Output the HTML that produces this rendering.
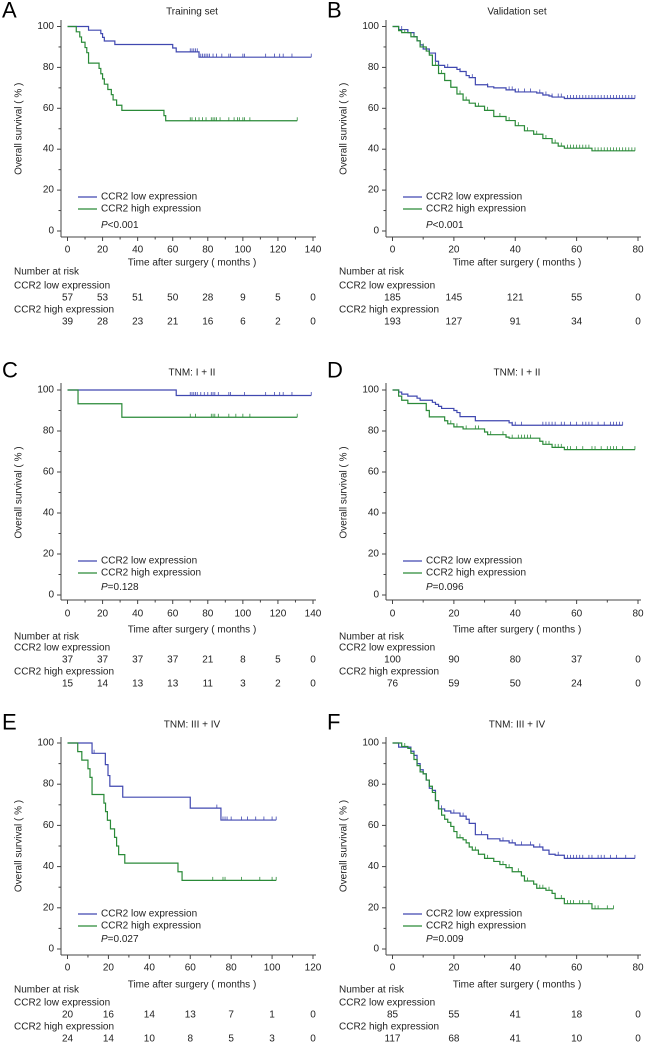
<!DOCTYPE html>
<html><head><meta charset="utf-8"><style>
html,body{margin:0;padding:0;background:#fff;}
svg{display:block;font-family:"Liberation Sans",Arial,sans-serif;}
</style></head><body>
<svg id="fig" width="650" height="1057" viewBox="0 0 650 1057" xmlns="http://www.w3.org/2000/svg"></svg>
<script>
// ---- Data (time in months, survival in %) ----
const A_low_t=[12,19,20,21,27,60,62,75], A_low_s=[98.2,96.5,94.7,92.9,91.2,89.5,87.6,85.0], A_low_end=139;
const A_low_c=[70,71,72,73,74,75,76,77,78,79,80,81,83,85,88,92,93,100,101,113,118,121,123,128,139];
const A_high_t=[5,7,8,10,11,12,18,19,20,21,23,25,26,28,31,55,56], A_high_s=[97.4,94.9,92.3,89.7,87.2,82.1,79.5,76.9,74.4,71.8,69.2,66.7,64.1,61.5,59.0,56.4,53.9], A_high_end=131;
const A_high_c=[70,71,73,75,77,79,82,83,84,85,87,92,95,97,98,100,101,104,131];
const B_low_t=[2,5,7,8,9,10,12,14,15,17,21,22,24,25,27,31,33,37,40,47,49,51,52,56], B_low_s=[98.5,97,95,93,91,89,87,83,81,80,79,78,76,75,71.5,70.5,70,69,68,67.5,66.5,66,65.5,64.8], B_low_end=79;
const B_low_c=[3,5,15,18,22,26,31,38,39,40,41,43,45,48,50,52,54,55,57,58,59,60,61,62,63,64,65,66,67,68,69,70,71,72,73,74,75,76,77,78,79];
const B_high_t=[2,3,6,8,9,11,12,13,15,17,19,21,23,25,27,30,33,37,40,43,46,49,52,54,56,65], B_high_s=[98,97,95,93,90,88,86,81,77,73.6,70.3,67,64,62.5,61,59,56,54,51.5,49,47.3,45.2,43,41.5,40.5,39.2], B_high_end=79;
const B_high_c=[4,7,10,14,16,19,22,24,28,31,35,38,41,44,47,50,53,55,57,58,59,60,61,62,63,64,66,67,68,69,70,71,72,73,74,75,76,77,78,79];
const C_low_t=[62], C_low_s=[97.3], C_low_end=139;
const C_low_c=[70,71,72,73,74,76,78,80,82,83,84,86,92,93,101,113,118,121,123,128,139];
const C_high_t=[6,31], C_high_s=[93.3,86.7], C_high_end=131;
const C_high_c=[70,73,82,83,84,86,92,96,100,104,131];
const D_low_t=[2,3,5,8,9,13,14,15,16,20,21,22,27,38,39], D_low_s=[99,98,97,96,95,94,93,92,91,90,89,87,85,84,82.8], D_low_end=75;
const D_low_c=[39,40,42,49,50,51,52,53,55,56,58,60,62,63,64,65,67,69,71,72,73,74,75];
const D_high_t=[2,3,5,11,12,17,18,20,23,30,31,37,38,48,49,52,56], D_high_s=[97,95,93.4,90,86.9,85,83.5,82,81,79.5,78.2,77,76.5,75,73.5,72,70.9], D_high_end=79;
const D_high_c=[19,21,24,27,28,32,36,39,41,42,43,44,45,50,51,53,54,55,57,58,60,62,65,66,68,70,71,72,73,75,79];
const E_low_t=[12,18.5,19.8,20.7,27,60,75], E_low_s=[95,89.5,84.2,79,73.7,68.4,62.6], E_low_end=102;
const E_low_c=[13,73,76,77,78,80,85,88,92,96,100,102];
const E_high_t=[5,7,10,11,12,17.8,18.6,19.5,21,23,24,25,28,54,56], E_high_s=[95.8,91.7,87.5,83.3,75,70.8,66.7,62.5,58.3,54.2,50,45.8,41.7,37.5,33.3], E_high_end=102;
const E_high_c=[71,76,77,85,94,100,102];
const F_low_t=[2,6,7,8,9,10,11,12,13,14,15,17,19,22,24,25,27,31,35,38,40,46,49,51,53,56], F_low_s=[98,96,94,90,87,85,82,78,77,72,68,67,66,64.5,63,61,55.5,53.5,52.5,51.5,50.5,49.5,48,46,45.5,44], F_low_end=79;
const F_low_c=[3,13,16,20,23,29,36,39,42,45,48,54,57,58,59,60,61,62,64,65,67,68,69,71,73,76,79];
const F_high_t=[3,5,6,7,8,9,10,11,12,13,14,15,16,17,18,19,20,21,23,24,25,26,28,30,33,35,37,39,42,43,46,47,50,52,53,56,65], F_high_s=[98.3,97.4,95,92,89,86,85,82,79,76,72,68,65,63,61.5,59.5,57,54,53,51.5,49.5,48,46,44,42.5,41,39.5,37.5,35.5,33,31.5,29.5,28.5,27,24.5,22,19.5], F_high_end=72;
const F_high_c=[4,9,15,19,22,27,31,36,38,41,44,48,49,51,55,57,58,59,61,62,64,66,67,70,72];
// risk tables
const A_risk_low=[57,53,51,50,28,9,5,0], A_risk_high=[39,28,23,21,16,6,2,0];
const B_risk_low=[185,145,121,55,0], B_risk_high=[193,127,91,34,0];
const C_risk_low=[37,37,37,37,21,8,5,0], C_risk_high=[15,14,13,13,11,3,2,0];
const D_risk_low=[100,90,80,37,0], D_risk_high=[76,59,50,24,0];
const E_risk_low=[20,16,14,13,7,1,0], E_risk_high=[24,14,10,8,5,3,0];
const F_risk_low=[85,55,41,18,0], F_risk_high=[117,68,41,10,0];
const A_pval="<0.001", B_pval="<0.001", C_pval="=0.128", D_pval="=0.096", E_pval="=0.027", F_pval="=0.009";

const BLUE="#4048b0", GREEN="#2a8a38", AX="#444";
const NS="http://www.w3.org/2000/svg";
const svg=document.getElementById('fig');
function mk(tag,attrs,parent){const e=document.createElementNS(NS,tag);for(const k in attrs)e.setAttribute(k,attrs[k]);(parent||svg).appendChild(e);return e;}
function txt(s,x,y,attrs,parent){const e=mk('text',Object.assign({x:x,y:y,'font-size':10,fill:'#222','dominant-baseline':'central'},attrs||{}),parent);e.textContent=s;return e;}

const rows=[
 {title:12,tick:250,xt:263,nar:272,low:286,lown:298,high:310,highn:322,leg1:197,leg2:209,p:225,y100:26.5,y0:231,ax:237,top:20,letter:10},
 {title:373,tick:614,xt:630,nar:637,low:648,lown:660,high:672,highn:684,leg1:561,leg2:573,p:587,y100:390,y0:595,ax:600,top:383,letter:370},
 {title:725,tick:968,xt:985,nar:990,low:1003,lown:1015,high:1027,highn:1039,leg1:914,leg2:926,p:939,y100:743,y0:949,ax:955,top:737,letter:722}
];
const panels=[
 {id:'A',row:0,ox:0,xmax:140,title:'Training set',lt:A_low_t,ls:A_low_s,le:A_low_end,lc:A_low_c,ht:A_high_t,hs:A_high_s,he:A_high_end,hc:A_high_c,rl:A_risk_low,rh:A_risk_high,p:A_pval},
 {id:'B',row:0,ox:325,xmax:80,title:'Validation set',lt:B_low_t,ls:B_low_s,le:B_low_end,lc:B_low_c,ht:B_high_t,hs:B_high_s,he:B_high_end,hc:B_high_c,rl:B_risk_low,rh:B_risk_high,p:B_pval},
 {id:'C',row:1,ox:0,xmax:140,title:'TNM: I + II',lt:C_low_t,ls:C_low_s,le:C_low_end,lc:C_low_c,ht:C_high_t,hs:C_high_s,he:C_high_end,hc:C_high_c,rl:C_risk_low,rh:C_risk_high,p:C_pval},
 {id:'D',row:1,ox:325,xmax:80,title:'TNM: I + II',lt:D_low_t,ls:D_low_s,le:D_low_end,lc:D_low_c,ht:D_high_t,hs:D_high_s,he:D_high_end,hc:D_high_c,rl:D_risk_low,rh:D_risk_high,p:D_pval},
 {id:'E',row:2,ox:0,xmax:120,title:'TNM: III + IV',lt:E_low_t,ls:E_low_s,le:E_low_end,lc:E_low_c,ht:E_high_t,hs:E_high_s,he:E_high_end,hc:E_high_c,rl:E_risk_low,rh:E_risk_high,p:E_pval},
 {id:'F',row:2,ox:325,xmax:80,title:'TNM: III + IV',lt:F_low_t,ls:F_low_s,le:F_low_end,lc:F_low_c,ht:F_high_t,hs:F_high_s,he:F_high_end,hc:F_high_c,rl:F_risk_low,rh:F_risk_high,p:F_pval}
];

panels.forEach(P=>{
 const R=rows[P.row], ox=P.ox;
 const X0=ox+67.5, X1=ox+313;
 const xs=t=>X0+(X1-X0)*t/P.xmax;
 const ys=s=>R.y0+(R.y100-R.y0)*s/100;
 const g=mk('g',{});
 
 
 const L=txt(P.id,ox+2,R.letter,{'font-size':22,fill:'#000'},g);
 
 
 const T=txt(P.title,ox+192,R.title,{'text-anchor':'middle'},g);
 
 
 // axes
 const axX=ox+61;
 const ya=mk('line',{x1:axX,y1:R.top,x2:axX,y2:R.ax,stroke:AX,'stroke-width':1},g);
 
 
 const xa=mk('line',{x1:axX,y1:R.ax,x2:ox+316,y2:R.ax,stroke:AX,'stroke-width':1},g);
 
 
 for(let v=0;v<=100;v+=10){
  const y=ys(v), major=v%20===0;
  mk('line',{x1:axX-(major?4:2.5),y1:y,x2:axX,y2:y,stroke:AX},g);
  if(major){const t=txt(String(v),axX-7,y,{'text-anchor':'end'},g);
   
   }
 }
 const step=20, ticks=[];
 for(let v=0;v<=P.xmax;v+=step/2){
  const x=xs(v), major=v%step===0;
  mk('line',{x1:x,y1:R.ax,x2:x,y2:R.ax+(major?4:2.5),stroke:AX},g);
  if(major){ticks.push(v);const t=txt(String(v),x,R.tick,{'text-anchor':'middle'},g);
   
   }
 }
 const yl=txt('Overall survival ( % )',0,0,{'text-anchor':'middle',transform:`translate(${ox+19},${(R.y0+R.y100)/2}) rotate(-90)`},g);
 
 
 const xl=txt('Time after surgery ( months )',ox+192,R.xt,{'text-anchor':'middle'},g);
 
 
 // curves
 function curve(tt,ss,end,cc,color,name){
  let d=`M${xs(0)},${ys(100)}`;
  for(let i=0;i<tt.length;i++){d+=` H${xs(tt[i])} V${ys(ss[i])}`;}
  d+=` H${xs(end)}`;
  const p=mk('path',{d:d,fill:'none',stroke:color,'stroke-width':1.2},g);
  
  
  cc.forEach(c=>{
   let s=100;for(let i=0;i<tt.length;i++){if(tt[i]<=c)s=ss[i];}
   const m=mk('line',{x1:xs(c),y1:ys(s),x2:xs(c),y2:ys(s)-3.5,stroke:color,'stroke-width':0.8},g);
   
   
  });
 }
 curve(P.lt,P.ls,P.le,P.lc,BLUE,'low-expression');
 curve(P.ht,P.hs,P.he,P.hc,GREEN,'high-expression');
 // legend
 [[R.leg1,BLUE,'CCR2 low expression'],[R.leg2,GREEN,'CCR2 high expression']].forEach(([y,c,s])=>{
  const ln=mk('line',{x1:ox+78,y1:y,x2:ox+97,y2:y,stroke:c,'stroke-width':1.2},g);
  
  
  const t=txt(s,ox+101,y,{},g);
  
  
 });
 const pt=txt('',ox+101,R.p,{},g);
 
 
 const it=mk('tspan',{'font-style':'italic'},pt);it.textContent='P';
 const rt=mk('tspan',{},pt);rt.textContent=P.p;
 // risk table
 const lx=ox+14;
 [[R.nar,'Number at risk'],[R.low,'CCR2 low expression'],[R.high,'CCR2 high expression']].forEach(([y,s])=>{
  const t=txt(s,lx,y,{},g);
  
  
 });
 ticks.forEach((v,i)=>{
  const a=txt(String(P.rl[i]),xs(v),R.lown,{'text-anchor':'middle'},g);
  
  
  const b=txt(String(P.rh[i]),xs(v),R.highn,{'text-anchor':'middle'},g);
  
  
 });
});
</script>
</body></html>
